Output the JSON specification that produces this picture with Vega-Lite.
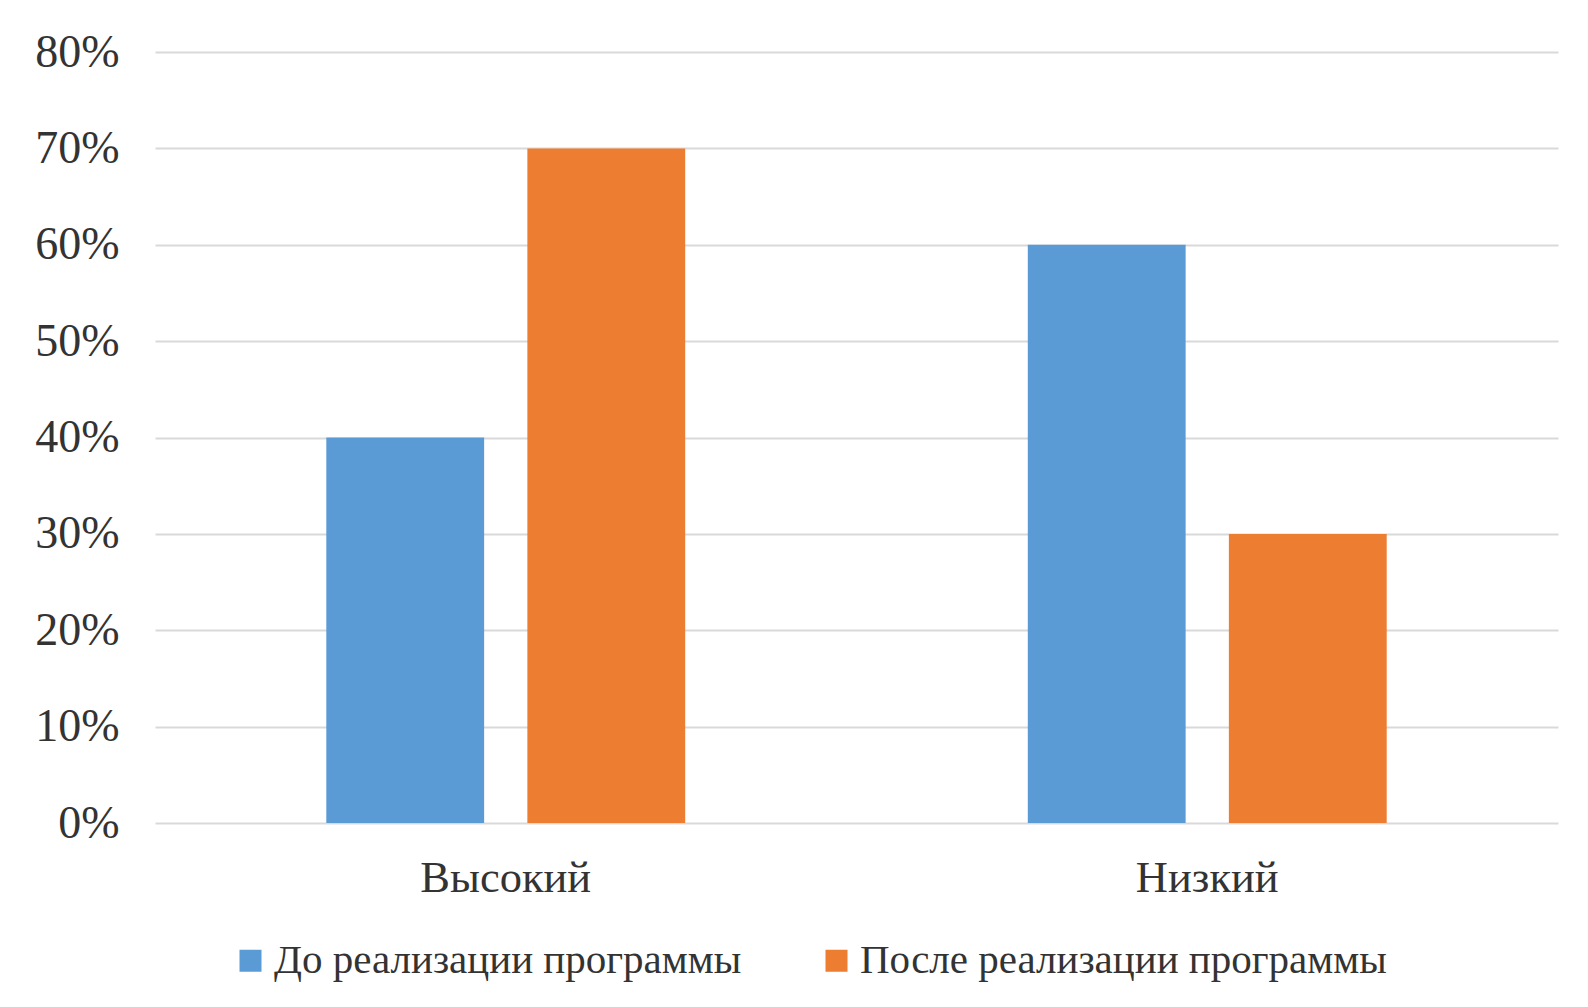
{
  "$schema": "https://vega.github.io/schema/vega-lite/v6.json",
  "width": 1403,
  "height": 771,
  "autosize": {"type": "none"},
  "padding": {"left": 155, "top": 52, "right": 30, "bottom": 184},
  "background": "#ffffff",
  "config": {
    "view": {"stroke": null},
    "font": "Liberation Serif",
    "axis": {"labelFont": "Liberation Serif", "labelColor": "#333333"},
    "legend": {"labelFont": "Liberation Serif", "labelColor": "#333333"}
  },
  "data": {
    "values": [
      {"level": "Высокий", "stage": "До реализации программы", "value": 0.4},
      {"level": "Высокий", "stage": "После реализации программы", "value": 0.7},
      {"level": "Низкий", "stage": "До реализации программы", "value": 0.6},
      {"level": "Низкий", "stage": "После реализации программы", "value": 0.3}
    ]
  },
  "mark": {"type": "bar"},
  "encoding": {
    "x": {
      "field": "level",
      "type": "nominal",
      "sort": ["Высокий", "Низкий"],
      "scale": {"paddingInner": 0, "paddingOuter": 0},
      "axis": {
        "title": null,
        "labelAngle": 0,
        "domain": false,
        "ticks": false,
        "labelFontSize": 44.5,
        "labelPadding": 33
      }
    },
    "xOffset": {
      "field": "stage",
      "type": "nominal",
      "sort": ["До реализации программы", "После реализации программы"],
      "scale": {"paddingInner": 0.215, "paddingOuter": 0.852}
    },
    "y": {
      "field": "value",
      "type": "quantitative",
      "scale": {"domain": [0, 0.8], "nice": false},
      "axis": {
        "title": null,
        "values": [0, 0.1, 0.2, 0.3, 0.4, 0.5, 0.6, 0.7, 0.8],
        "format": ".0%",
        "domain": false,
        "ticks": false,
        "labelFontSize": 46,
        "labelPadding": 36,
        "gridColor": "#d9d9d9",
        "gridWidth": 2
      }
    },
    "color": {
      "field": "stage",
      "type": "nominal",
      "scale": {
        "domain": ["До реализации программы", "После реализации программы"],
        "range": ["#5B9BD5", "#ED7D31"]
      },
      "legend": {
        "title": null,
        "orient": "none",
        "direction": "horizontal",
        "legendX": 75,
        "legendY": 888,
        "padding": 0,
        "symbolType": "square",
        "symbolSize": 484,
        "symbolStrokeWidth": 0,
        "symbolOpacity": 1,
        "labelFontSize": 41,
        "labelOffset": 3,
        "columnPadding": 74,
        "labelLimit": 0
      }
    }
  }
}
